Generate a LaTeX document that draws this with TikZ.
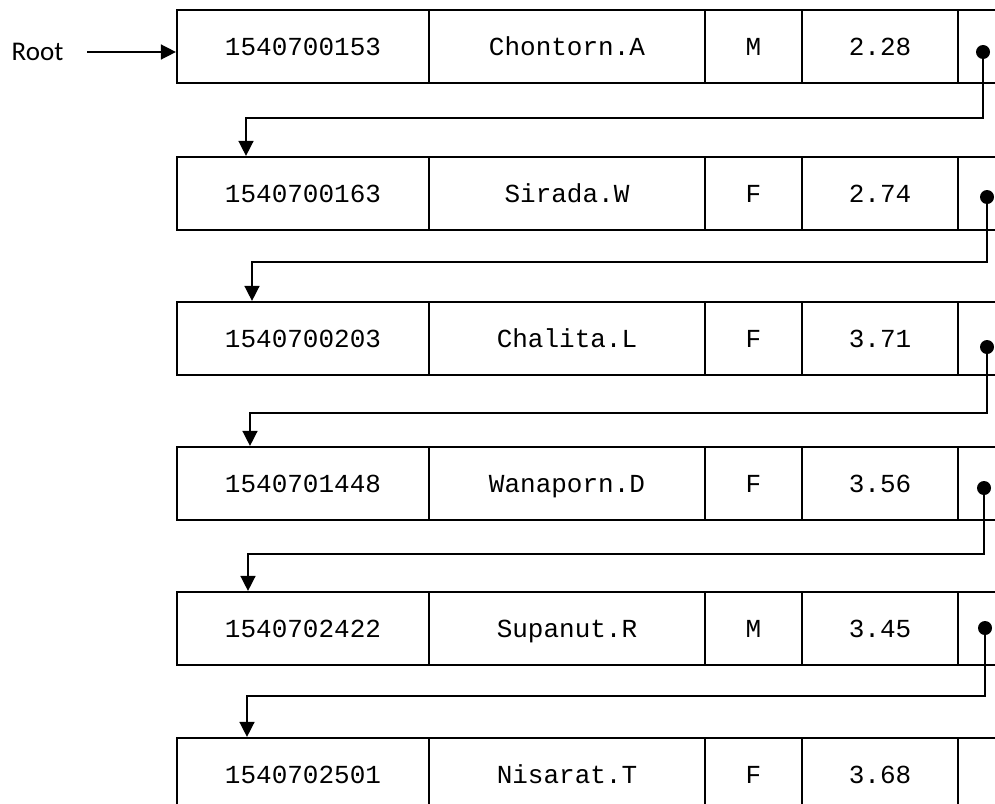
\documentclass[tikz,border=0pt]{standalone}
\usepackage{fontspec}
\setmonofont{Liberation Mono}
\newfontfamily\rootfont{Carlito}
\usetikzlibrary{arrows.meta}
\begin{document}
\begin{tikzpicture}[x=1pt,y=-1pt,
  cell/.style={draw,line width=2.2pt,minimum height=73pt,inner sep=0pt,
    text height=19pt,text depth=2pt,
    font=\ttfamily\fontsize{26}{30}\selectfont},
  cA/.style={cell,minimum width=252pt},
  cB/.style={cell,minimum width=276pt},
  cC/.style={cell,minimum width=97pt},
  cD/.style={cell,minimum width=156pt},
  cE/.style={cell,minimum width=54pt},
  ptr/.style={circle,fill=black,minimum size=14pt,inner sep=0pt},
  conn/.style={line width=1.5pt},
  tip/.style={-{Triangle[length=15pt,width=15pt]}}]
\useasboundingbox (0,0) rectangle (995,803);
\clip (0,0) rectangle (995,803);
\foreach \i/\t/\id/\nm/\g/\gpa in {
  1/10/1540700153/Chontorn.A/M/2.28,
  2/157/1540700163/Sirada.W/F/2.74,
  3/302/1540700203/Chalita.L/F/3.71,
  4/447/1540701448/Wanaporn.D/F/3.56,
  5/592/1540702422/Supanut.R/M/3.45,
  6/738/1540702501/Nisarat.T/F/3.68}{
  \node[cA] (r\i c1) at (303,\t+36.5) {\id};
  \node[cB] (r\i c2) at (567,\t+36.5) {\nm};
  \node[cC] (r\i c3) at (753.5,\t+36.5) {\g};
  \node[cD] (r\i c4) at (880,\t+36.5) {\gpa};
  \node[cE] (r\i c5) at (985,\t+36.5) {};
}
% root
\node[font=\rootfont\fontsize{27}{30}\selectfont,inner sep=0pt] (root) at (37.5,52) {Root};
\coordinate (rs) at (87,52);
\draw[conn,tip] (rs) -- (rs -| r1c1.west);
% pointers
\foreach \i/\n/\dx/\dy/\cy/\ax in {
  1/2/983/52/118/246,
  2/3/987/197/262/252,
  3/4/987/347/413/250,
  4/5/984/488/554/248,
  5/6/985/628/696/247}{
  \node[ptr] (d\i) at (\dx,\dy) {};
  \coordinate (j\i) at (\ax,\cy);
  \draw[conn,tip] (d\i.center) |- (j\i) -- (j\i |- r\n c1.north);
}
\end{tikzpicture}
\end{document}
